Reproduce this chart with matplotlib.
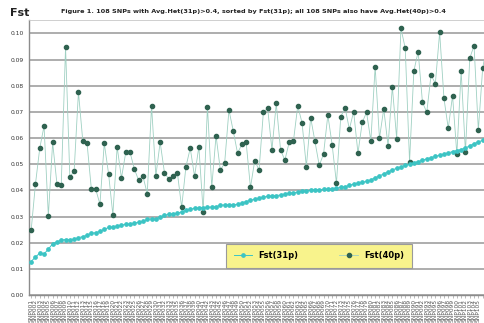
import numpy as np
import matplotlib
matplotlib.use("Agg")
import matplotlib.pyplot as plt

# Fst values per SNP, sorted by Fst(31p)
fst_31p = [
    0.0128, 0.0145, 0.0160, 0.0157, 0.0175, 0.0196, 0.0203, 0.0210, 0.0212, 0.0211,
    0.0213, 0.0219, 0.0223, 0.0228, 0.0236, 0.0238, 0.0243, 0.0251, 0.0258, 0.0260,
    0.0264, 0.0267, 0.0270, 0.0271, 0.0275, 0.0278, 0.0281, 0.0289, 0.0291, 0.0290,
    0.0298, 0.0305, 0.0308, 0.0310, 0.0312, 0.0318, 0.0323, 0.0328, 0.0331, 0.0333,
    0.0334, 0.0335, 0.0336, 0.0337, 0.0343, 0.0344, 0.0344, 0.0345, 0.0346, 0.0352,
    0.0357, 0.0362, 0.0366, 0.0369, 0.0374, 0.0377, 0.0378, 0.0380, 0.0382, 0.0386,
    0.0388, 0.0391, 0.0393, 0.0397, 0.0398, 0.0400, 0.0401, 0.0402, 0.0404, 0.0405,
    0.0406, 0.0408, 0.0411, 0.0414, 0.0419, 0.0424, 0.0428, 0.0431, 0.0434, 0.0440,
    0.0448, 0.0455, 0.0463, 0.0470, 0.0478, 0.0484, 0.0490, 0.0495, 0.0500, 0.0505,
    0.0510, 0.0515, 0.0520, 0.0525, 0.0530, 0.0534, 0.0539, 0.0543, 0.0548, 0.0552,
    0.0556, 0.0562, 0.0570, 0.0578, 0.0585, 0.0591, 0.0597, 0.0603,
]
fst_40p = [
    0.0247, 0.0424, 0.0561, 0.0646, 0.0303, 0.0583, 0.0424, 0.0421, 0.0948, 0.0450,
    0.0475, 0.0776, 0.0590, 0.0580, 0.0405, 0.0405, 0.0347, 0.0580, 0.0464, 0.0307,
    0.0566, 0.0447, 0.0545, 0.0545, 0.0482, 0.0438, 0.0454, 0.0387, 0.0723, 0.0455,
    0.0584, 0.0468, 0.0443, 0.0455, 0.0468, 0.0335, 0.0491, 0.0561, 0.0453, 0.0567,
    0.0319, 0.0720, 0.0412, 0.0609, 0.0477, 0.0504, 0.0707, 0.0627, 0.0542, 0.0576,
    0.0583, 0.0411, 0.0514, 0.0477, 0.0698, 0.0714, 0.0555, 0.0732, 0.0555, 0.0515,
    0.0583, 0.0589, 0.0723, 0.0658, 0.0491, 0.0678, 0.0587, 0.0495, 0.0539, 0.0688,
    0.0574, 0.0427, 0.0681, 0.0716, 0.0634, 0.0701, 0.0542, 0.0660, 0.0698, 0.0589,
    0.0873, 0.0599, 0.0711, 0.0571, 0.0796, 0.0598, 0.1019, 0.0943, 0.0510, 0.0856,
    0.0930, 0.0737, 0.0698, 0.0841, 0.0808, 0.1004, 0.0752, 0.0637, 0.0762, 0.0538,
    0.0856, 0.0546, 0.0905, 0.0953, 0.0630, 0.0866, 0.0955, 0.0720,
]
# SNP names are not legible in the source, plain ids stand in for them
snp_ids = ["SNP%03d" % (i + 1) for i in range(len(fst_31p))]
y_ticks = [0.00, 0.01, 0.02, 0.03, 0.04, 0.05, 0.06, 0.07, 0.08, 0.09, 0.10]

W, H = 484, 323
fig = plt.figure(figsize=(W / 100, H / 100), dpi=100)
fig.patch.set_facecolor("white")

# plot area runs off the right edge, like the cropped original
ax = fig.add_axes([29 / W, 1 - 295 / H, 464.4 / W, 275 / H])
x = np.arange(len(fst_31p))

ax.plot(x, fst_40p, color="#9fd0c2", lw=0.6, marker="o", ms=3.0,
        mfc="#2f6250", mec="#2f6250", label="Fst(40p)", zorder=3)
ax.plot(x, fst_31p, color="#3cc4c4", lw=0.7, marker="o", ms=2.4,
        mfc="#3cc4c4", mec="#3cc4c4", label="Fst(31p)", zorder=4)

ax.set_xlim(-0.5, len(x) - 0.5)
ax.set_ylim(0, 0.1051)
ax.set_yticks(y_ticks)
ax.set_yticklabels(["%.2f" % v for v in y_ticks], fontsize=4.3, color="#333333")
ax.yaxis.grid(True, color="#a0a0a0", lw=1.2)
ax.set_axisbelow(True)
ax.tick_params(axis="y", length=0, pad=4)

ax.set_xticks(x)
ax.set_xticklabels(snp_ids, rotation=90, fontsize=4.2, color="#555555")
ax.tick_params(axis="x", length=2, width=0.4, color="#888888", pad=1)
# labels that would fall past the cropped right edge are left out
for lbl in ax.get_xticklabels()[105:]:
    lbl.set_visible(False)

for side in ["top", "right"]:
    ax.spines[side].set_color("#c8c8c8")
    ax.spines[side].set_linewidth(0.6)
ax.spines["left"].set_color("#8c8c8c")
ax.spines["bottom"].set_color("#8c8c8c")
ax.spines["left"].set_linewidth(1.0)
ax.spines["bottom"].set_linewidth(1.0)

fig.text(10 / W, 1 - 13 / H, "Fst", fontsize=8, fontweight="bold",
         va="center", ha="left", color="#222222")
fig.text(253 / W, 1 - 12 / H,
         "Figure 1. 108 SNPs with Avg.Het(31p)>0.4, sorted by Fst(31p); "
         "all 108 SNPs also have Avg.Het(40p)>0.4",
         fontsize=4.65, fontweight="bold", ha="center", va="center", color="#222222")

# legend box in yellow, 31p first
handles, labels = ax.get_legend_handles_labels()
leg = fig.legend(handles[::-1], labels[::-1], ncol=2,
                 loc="center", mode="expand",
                 bbox_to_anchor=(222 / W, 1 - 268 / H, 194 / W, 25 / H),
                 prop={"size": 6, "weight": "bold"}, frameon=True, fancybox=False,
                 borderpad=0.9, handlelength=2.2, columnspacing=3.0)
leg.get_frame().set_facecolor("#f8f38c")
leg.get_frame().set_edgecolor("#9a9a9a")
leg.get_frame().set_linewidth(0.8)
leg.get_frame().set_alpha(1)

fig.savefig("out.png", dpi=100)
